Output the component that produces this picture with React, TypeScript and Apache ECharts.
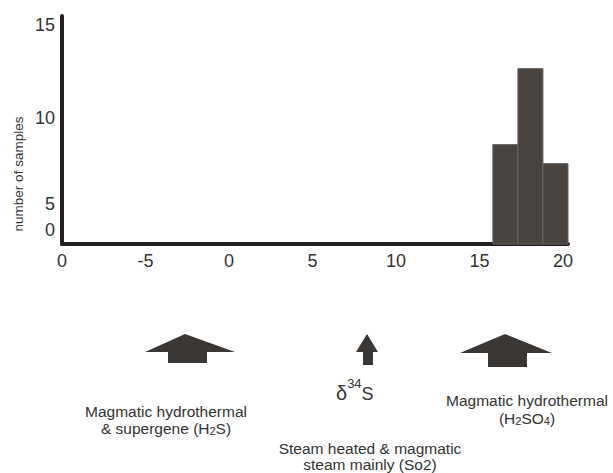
import React, { useEffect, useRef } from "react";
import * as echarts from "echarts";

// ---- data ----
const xTickValues = [-10, -5, 0, 5, 10, 15, 20];
const xTickLabels = ["0", "-5", "0", "5", "10", "15", "20"];
const yTickValues = [0, 5, 10, 15];
const yTickLabels = ["0", "5", "10", "15"];
const binStarts = [15.8, 17.3, 18.8];
const binEnds = [17.3, 18.8, 20.3];
const sampleCounts = [6.8, 12.0, 5.5];
const yAxisTitle = "number of samples";

const FONT = "'Liberation Sans', Arial, Helvetica, sans-serif";
const AXIS_COLOR = "#231f20";
const TEXT_COLOR = "#333333";
const BAR_COLOR = "#48433f";
const ARROW_COLOR = "#3b3735";

const labelStyle = (extra: any) => ({
  fontSize: 18,
  fontFamily: FONT,
  color: TEXT_COLOR,
  ...extra,
});

const textStyleBase = { fontSize: 15.5, fontFamily: FONT, fill: TEXT_COLOR };

export default function App() {
  const ref = useRef<HTMLDivElement>(null);

  useEffect(() => {
    if (!ref.current) return;
    const chart = echarts.init(ref.current, undefined, { renderer: "svg" });

    const binData = binStarts.map((s, i) => [s, binEnds[i], sampleCounts[i]]);

    const option: any = {
      animation: false,
      grid: { left: 62, right: 45, top: 16, bottom: 229, containLabel: false },
      xAxis: {
        type: "value",
        min: -10,
        max: 20.3,
        interval: 5,
        axisLine: { show: true, onZero: false, lineStyle: { color: AXIS_COLOR, width: 4 } },
        axisTick: { show: false },
        splitLine: { show: false },
        axisLabel: {
          margin: 8,
          fontSize: 18,
          fontFamily: FONT,
          color: TEXT_COLOR,
          formatter: (v: number) => {
            const i = xTickValues.findIndex((t) => Math.abs(t - v) < 1e-6);
            return i >= 0 ? xTickLabels[i] : "";
          },
        },
      },
      yAxis: {
        type: "value",
        min: 0,
        max: 15.6,
        interval: 5,
        axisLine: { show: true, onZero: false, lineStyle: { color: AXIS_COLOR, width: 4 } },
        axisTick: { show: false },
        splitLine: { show: false },
        axisLabel: {
          margin: 7,
          fontSize: 18,
          fontFamily: FONT,
          color: TEXT_COLOR,
          formatter: (v: number) => {
            const i = yTickValues.findIndex((t) => Math.abs(t - v) < 1e-6);
            return i >= 0 ? `{y${yTickValues[i]}|${yTickLabels[i]}}` : "";
          },
          rich: {
            y0: labelStyle({ padding: [0, 0, 28, 0] }),
            y5: labelStyle({ padding: [66, 0, 0, 0] }),
            y10: labelStyle({ padding: [40, 0, 0, 0] }),
            y15: labelStyle({}),
          },
        },
      },
      series: [
        {
          type: "custom",
          data: binData,
          encode: { x: [0, 1], y: 2 },
          renderItem: (params: any, api: any) => {
            const p0 = api.coord([api.value(0), api.value(2)]);
            const p1 = api.coord([api.value(1), 0]);
            return {
              type: "rect",
              shape: { x: p0[0], y: p0[1], width: p1[0] - p0[0], height: p1[1] - p0[1] },
              style: { fill: BAR_COLOR, stroke: "#6a6563", lineWidth: 1 },
            };
          },
          z: 3,
        },
      ],
      graphic: [
        {
          type: "text",
          x: 18,
          y: 174,
          rotation: Math.PI / 2,
          style: {
            text: yAxisTitle,
            fontSize: 13.5,
            fontFamily: FONT,
            fill: TEXT_COLOR,
            align: "center",
            verticalAlign: "middle",
          },
        },
        // arrows
        {
          type: "polygon",
          shape: {
            points: [
              [185, 334], [235, 352], [207, 352], [207, 363], [168, 363], [168, 352], [145, 352],
            ],
          },
          style: { fill: ARROW_COLOR },
        },
        {
          type: "polygon",
          shape: {
            points: [
              [367, 334], [378, 352], [373, 352], [373, 365], [363, 365], [363, 352], [356, 352],
            ],
          },
          style: { fill: ARROW_COLOR },
        },
        {
          type: "polygon",
          shape: {
            points: [
              [505, 334], [552, 353], [527, 353], [527, 367], [488, 367], [488, 353], [460, 353],
            ],
          },
          style: { fill: ARROW_COLOR },
        },
        // delta 34 S
        {
          type: "text",
          x: 336,
          y: 390,
          style: {
            text: "{d|δ}{sup|34}{s|S}",
            align: "left",
            verticalAlign: "middle",
            rich: {
              d: { fontSize: 20, fontFamily: FONT, fill: TEXT_COLOR, lineHeight: 26, verticalAlign: "bottom" },
              sup: { fontSize: 13, fontFamily: FONT, fill: TEXT_COLOR, verticalAlign: "top" },
              s: { fontSize: 18, fontFamily: FONT, fill: TEXT_COLOR, lineHeight: 26, verticalAlign: "bottom" },
            },
          },
        },
        // left block
        {
          type: "text",
          x: 166,
          y: 420,
          style: {
            text: "{a|Magmatic hydrothermal}\n{a|& supergene (H}{b|2}{a|S)}",
            align: "center",
            verticalAlign: "middle",
            rich: {
              a: { ...textStyleBase, lineHeight: 17 },
              b: { ...textStyleBase, fontSize: 11, lineHeight: 17, verticalAlign: "bottom", padding: [0, 0, 1, 0] },
            },
          },
        },
        // middle block
        {
          type: "text",
          x: 370,
          y: 456,
          style: {
            text: "{a|Steam heated & magmatic}\n{a|steam mainly (So2)}",
            align: "center",
            verticalAlign: "middle",
            rich: {
              a: { ...textStyleBase, lineHeight: 16 },
            },
          },
        },
        // right block
        {
          type: "text",
          x: 527,
          y: 409,
          style: {
            text: "{a|Magmatic hydrothermal}\n{a|(H}{b|2}{a|SO}{b|4}{a|)}",
            align: "center",
            verticalAlign: "middle",
            rich: {
              a: { ...textStyleBase, lineHeight: 18 },
              b: { ...textStyleBase, fontSize: 11, lineHeight: 18, verticalAlign: "bottom", padding: [0, 0, 1, 0] },
            },
          },
        },
      ],
    };

    chart.setOption(option);
    return () => chart.dispose();
  }, []);

  return (
    <div
      ref={ref}
      style={{ position: "fixed", left: 0, top: 0, width: 613, height: 473, background: "#ffffff" }}
    />
  );
}
